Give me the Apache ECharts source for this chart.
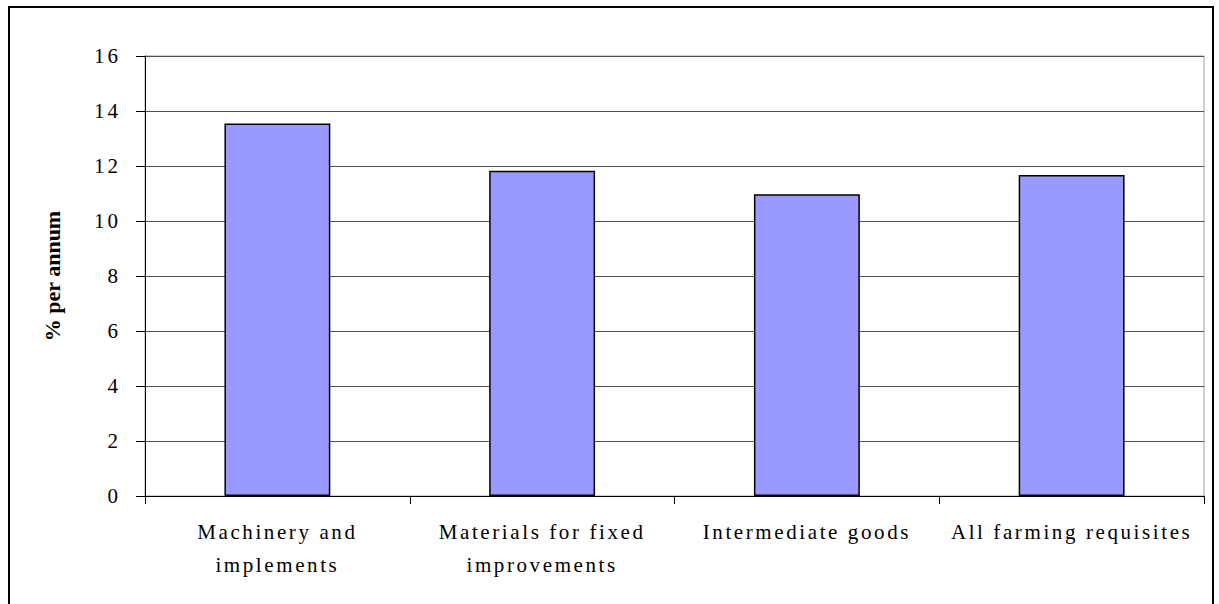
<!DOCTYPE html>
<html>
<head>
<meta charset="utf-8">
<script src="https://cdn.jsdelivr.net/npm/echarts@6/dist/echarts.min.js"></script>
<style>
  html, body { margin: 0; padding: 0; background: #fff; }
  #chart { width: 1219px; height: 604px; }
</style>
</head>
<body>
<div id="chart"></div>
<script>
// Annual growth of farming requisite prices, % per annum
const categories = [
  'Machinery and\nimplements',
  'Materials for fixed\nimprovements',
  'Intermediate goods',
  'All farming requisites'
];
const growthValues = [13.55, 11.83, 10.97, 11.67];
const yTicks = { min: 0, max: 16, interval: 2 };
const yAxisTitle = '% per annum';

const FONT = '"Liberation Serif", "Times New Roman", serif';

const chart = echarts.init(document.getElementById('chart'), null, { renderer: 'svg' });

chart.setOption({
  animation: false,
  backgroundColor: '#ffffff',
  graphic: [{
    type: 'rect',
    shape: { x: 9, y: 7, width: 1204, height: 610 },
    style: { fill: 'none', stroke: '#000', lineWidth: 2 },
    silent: true,
    z: 100
  }],
  grid: {
    left: 145, right: 15, top: 56, bottom: 108,
    show: true, borderColor: '#a0a0a0', borderWidth: 1
  },
  xAxis: {
    type: 'category',
    data: categories,
    axisLine: { lineStyle: { color: '#000', width: 1 } },
    axisTick: { show: true, length: 8, lineStyle: { color: '#000' } },
    axisLabel: {
      interval: 0,
      margin: 19,
      fontFamily: FONT,
      fontSize: 21,
      lineHeight: 33,
      color: '#000'
    }
  },
  yAxis: {
    type: 'value',
    min: yTicks.min, max: yTicks.max, interval: yTicks.interval,
    name: yAxisTitle,
    nameLocation: 'middle',
    nameGap: 82,
    nameTextStyle: { fontFamily: FONT, fontSize: 22, fontWeight: 'bold', color: '#000' },
    axisLine: { show: true, lineStyle: { color: '#000', width: 1 } },
    axisTick: { show: true, length: 9, lineStyle: { color: '#000' } },
    axisLabel: { margin: 24, fontFamily: FONT, fontSize: 21, color: '#000' },
    splitLine: { show: true, lineStyle: { color: '#505050', width: 1 } }
  },
  series: [{
    type: 'bar',
    data: growthValues,
    barWidth: '40%',
    itemStyle: { color: '#9999ff', borderColor: '#000', borderWidth: 1.5 }
  }]
});

// Spread the letters of the axis labels, leaving the bold axis title as is
function spreadLabels() {
  document.querySelectorAll('#chart svg text').forEach(function (t) {
    const style = (t.getAttribute('style') || '') + ' ' + (t.getAttribute('font-weight') || '');
    if (/bold/.test(style) || t.textContent.indexOf('%') >= 0) return;
    const isNumber = /^\d+$/.test(t.textContent.trim());
    t.setAttribute('letter-spacing', isNumber ? '3px' : '2.6px');
  });
}
spreadLabels();
chart.on('finished', spreadLabels);
</script>
</body>
</html>
